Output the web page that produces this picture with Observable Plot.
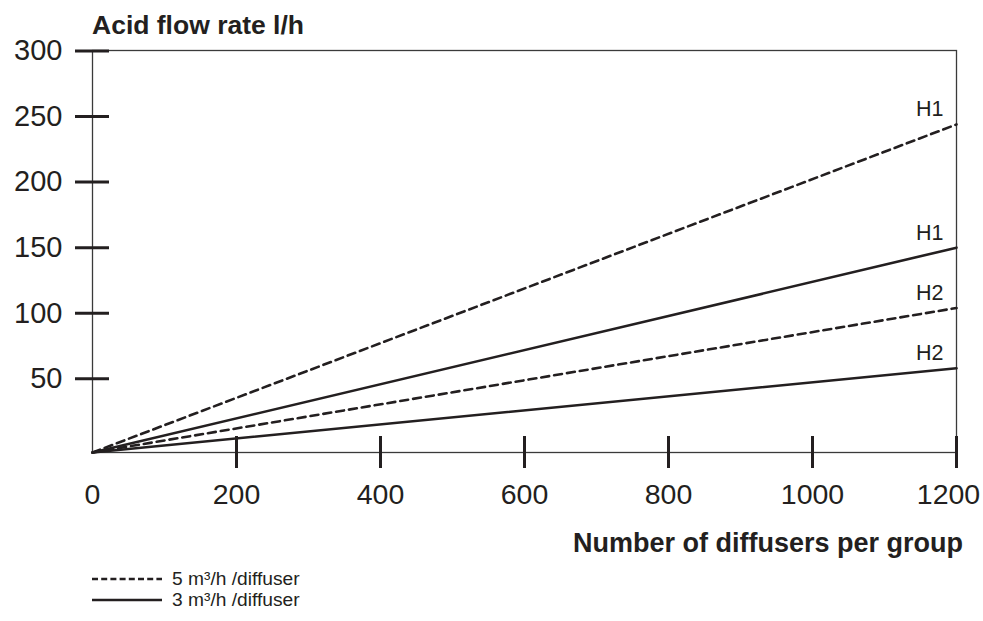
<!DOCTYPE html>
<html><head><meta charset="utf-8">
<script src="https://cdn.jsdelivr.net/npm/d3@7"></script>
<script src="https://cdn.jsdelivr.net/npm/@observablehq/plot@0.6"></script>
<style>
body{margin:0;background:#fff;font-family:"Liberation Sans",Arial,sans-serif;color:#231f20}
#wrap{position:relative;width:983px;height:621px;overflow:hidden}
#chart{position:absolute;left:0;top:0}
#title{position:absolute;left:92px;top:10px;font-weight:bold;font-size:26.5px;line-height:30px;white-space:nowrap}
#xlabel{position:absolute;right:20px;top:528px;font-weight:bold;font-size:27px;line-height:30px;white-space:nowrap}
.leg{position:absolute;left:92px;height:20px;display:flex;align-items:center;font-size:19.2px;white-space:nowrap}
.leg svg{margin-right:10px}
</style></head><body>
<div id="wrap">
  <div id="chart"></div>
  <div id="title">Acid flow rate l/h</div>
  <div id="xlabel">Number of diffusers per group</div>
  <div class="leg" id="leg5" style="top:569px"></div>
  <div class="leg" id="leg3" style="top:590px"></div>
</div>
<script>
// Data
const diffusers = [0, 1200];
const h1At5 = [0, 244];   // dashed H1, 5 m³/h /diffuser
const h1At3 = [0, 150];   // solid H1, 3 m³/h /diffuser
const h2At5 = [0, 104];   // dashed H2
const h2At3 = [0, 58];    // solid H2
const flowLabels = ["5 m³/h /diffuser", "3 m³/h /diffuser"];
const xTicks = [0, 200, 400, 600, 800, 1000, 1200];
const yTicks = [50, 100, 150, 200, 250, 300];

const series = [
  {name: "H1", flow: 5, values: h1At5},
  {name: "H1", flow: 3, values: h1At3},
  {name: "H2", flow: 5, values: h2At5},
  {name: "H2", flow: 3, values: h2At3}
];
const rows = series.flatMap((s, i) => diffusers.map((x, j) => ({key: i, name: s.name, flow: s.flow, x, y: s.values[j]})));

const ink = "#231f20";
const dash = "8,5";
const lastX = xTicks[xTicks.length - 1];

const chart = Plot.plot({
  width: 983, height: 540,
  marginLeft: 92, marginRight: 27, marginTop: 50, marginBottom: 88,
  style: {fontFamily: "Liberation Sans, Arial, sans-serif", color: ink, background: "white", overflow: "visible"},
  x: {type: "linear", domain: [0, 1200], range: [92, 956]},
  y: {type: "linear", domain: [0, 50, 300], range: [452, 378.3, 50.5]},
  marks: [
    Plot.frame({stroke: "#3a3a3a", strokeWidth: 1.3}),
    Plot.line(rows.filter(d => d.flow === 5), {x: "x", y: "y", z: "key", stroke: ink, strokeWidth: 2.6, strokeDasharray: dash}),
    Plot.line(rows.filter(d => d.flow === 3), {x: "x", y: "y", z: "key", stroke: ink, strokeWidth: 2.6}),
    Plot.axisX({ticks: xTicks.filter(d => d > 0), tickSize: 32, dy: -16, fill: "none", stroke: ink, strokeWidth: 3, label: null}),
    Plot.axisX({ticks: xTicks.filter(d => d < lastX), tickFormat: d => String(d), tickSize: 0, tickPadding: 31, fontSize: 28.5, fill: ink, label: null}),
    Plot.axisX({ticks: [lastX], tickFormat: d => String(d), tickSize: 0, tickPadding: 31, fontSize: 28.5, dx: -8, fill: ink, label: null}),
    Plot.axisY({ticks: yTicks, tickSize: 34, dx: 17, fill: "none", stroke: ink, strokeWidth: 3, label: null}),
    Plot.axisY({ticks: yTicks, tickFormat: d => String(d), tickSize: 0, tickPadding: 30, fontSize: 29, fill: ink, label: null}),
    Plot.text(rows.filter(d => d.x === 1200), {x: "x", y: "y", text: "name", textAnchor: "end", dx: -13, dy: -15, fontSize: 21.5, fill: ink})
  ]
});
document.getElementById("chart").appendChild(chart);

function legendItem(id, label, dashed) {
  const el = document.getElementById(id);
  const ns = "http://www.w3.org/2000/svg";
  const svg = document.createElementNS(ns, "svg");
  svg.setAttribute("width", 70); svg.setAttribute("height", 6);
  const ln = document.createElementNS(ns, "line");
  ln.setAttribute("x1", 0); ln.setAttribute("x2", 70); ln.setAttribute("y1", 3); ln.setAttribute("y2", 3);
  ln.setAttribute("stroke", ink); ln.setAttribute("stroke-width", 2.4);
  if (dashed) ln.setAttribute("stroke-dasharray", "6,3.2");
  svg.appendChild(ln);
  el.appendChild(svg);
  el.appendChild(document.createTextNode(label));
}
legendItem("leg5", flowLabels[0], true);
legendItem("leg3", flowLabels[1], false);
</script>
</body></html>
